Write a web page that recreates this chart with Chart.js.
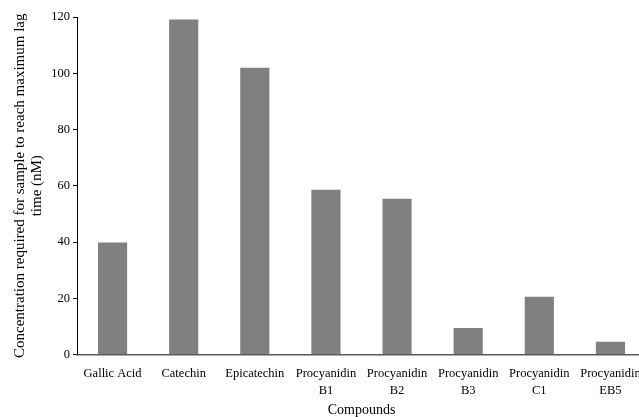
<!DOCTYPE html>
<html>
<head>
<meta charset="utf-8">
<script src="https://cdn.jsdelivr.net/npm/chart.js@4.4.0/dist/chart.umd.min.js"></script>
<style>
html,body{margin:0;padding:0;background:#fff;overflow:hidden;width:639px;height:417px;}
canvas{display:block;}
</style>
</head>
<body>
<canvas id="c" width="646" height="417"></canvas>
<script>
const categories = [
  'Gallic Acid',
  'Catechin',
  'Epicatechin',
  ['Procyanidin', 'B1'],
  ['Procyanidin', 'B2'],
  ['Procyanidin', 'B3'],
  ['Procyanidin', 'C1'],
  ['Procyanidin', 'EB5']
];
const concentrations = [39.8, 119.1, 102.0, 58.6, 55.4, 9.4, 20.5, 4.5];
const yTicks = [0, 20, 40, 60, 80, 100, 120];
const xTitle = 'Compounds';
const yTitle = ['Concentration required for sample to reach maximum lag', 'time (nM)'];

const serif = '"Liberation Serif", "Times New Roman", serif';

new Chart(document.getElementById('c'), {
  type: 'bar',
  data: {
    labels: categories,
    datasets: [{
      data: concentrations,
      backgroundColor: '#808080',
      borderWidth: 0,
      barPercentage: 0.41,
      categoryPercentage: 1.0
    }]
  },
  options: {
    responsive: false,
    animation: false,
    layout: { padding: { top: 17, right: 0, bottom: 0, left: 0 } },
    plugins: { legend: { display: false }, tooltip: { enabled: false } },
    scales: {
      x: {
        grid: { display: false, drawTicks: false },
        border: { display: true, color: '#5a5a5a', width: 1.5 },
        ticks: {
          color: '#000',
          font: { family: serif, size: 12.5, lineHeight: 1.35 },
          padding: 11,
          maxRotation: 0,
          autoSkip: false
        },
        title: {
          display: true,
          text: xTitle,
          color: '#000',
          font: { family: serif, size: 14 },
          padding: { top: 0, bottom: -1.5 }
        },
        afterFit: (s) => { s.height = 62.5; s.paddingLeft = 0; s.paddingRight = 0; }
      },
      y: {
        min: 0,
        max: 120,
        afterBuildTicks: (s) => { s.ticks = yTicks.map(v => ({ value: v })); },
        grid: { display: true, drawOnChartArea: false, drawTicks: true, tickLength: 4, color: '#000' },
        border: { display: true, color: '#000', width: 1 },
        ticks: {
          color: '#000',
          font: { family: serif, size: 12.5 },
          padding: 3
        },
        title: {
          display: true,
          text: yTitle,
          color: '#000',
          font: { family: serif, size: 15, lineHeight: 1.133 },
          padding: { top: 11.5, bottom: 0 }
        },
        afterFit: (s) => { s.width = 77; }
      }
    }
  }
});
</script>
</body>
</html>
